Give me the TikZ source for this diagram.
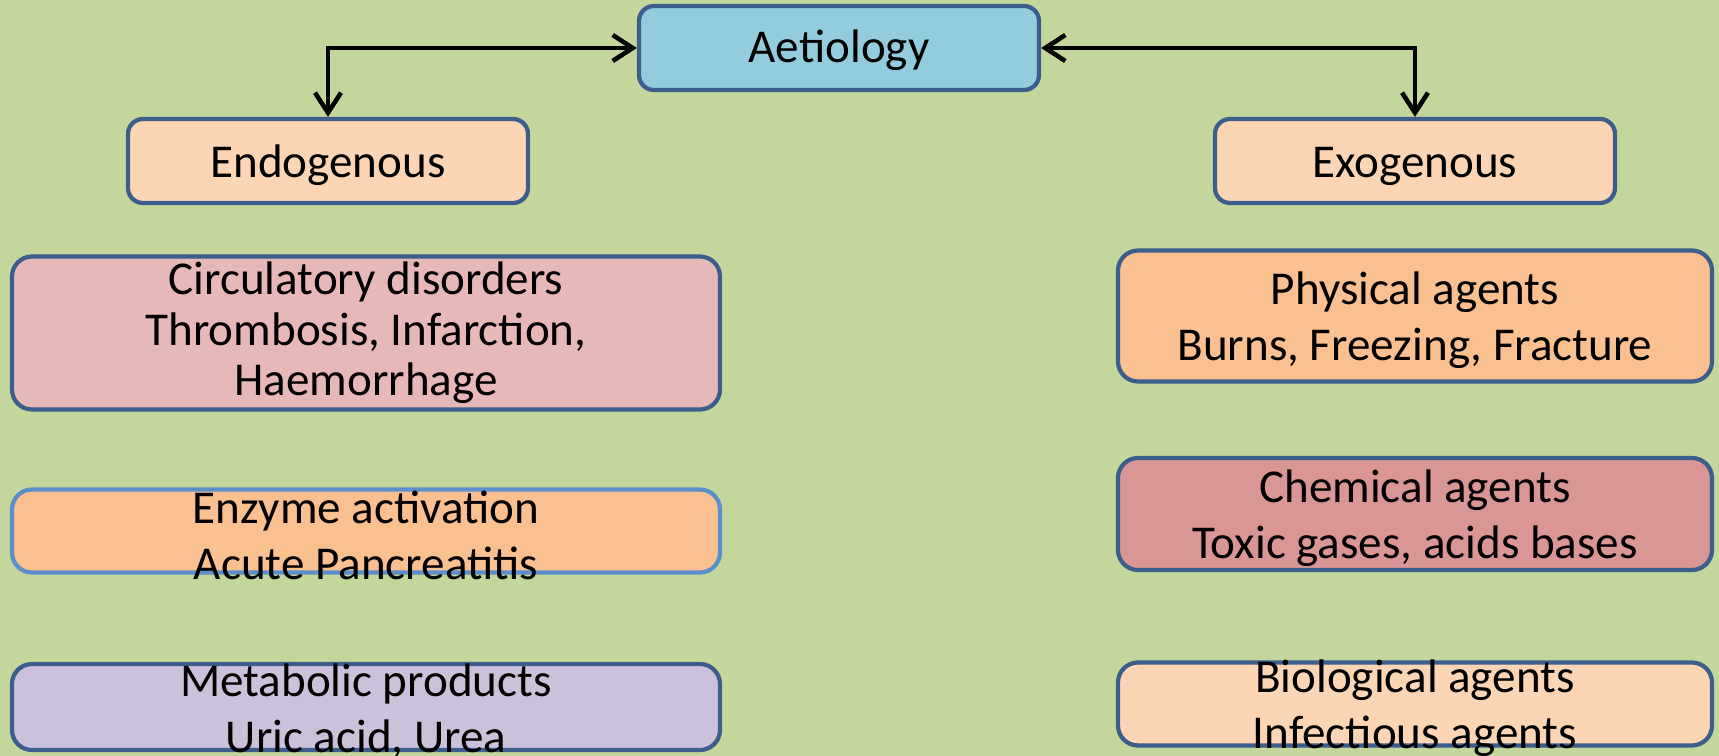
\documentclass[tikz,border=0pt]{standalone}
\usepackage{fontspec}
\setmainfont{Carlito}
\usepackage{tikz}
\usetikzlibrary{positioning}
\usetikzlibrary{arrows.meta}
\definecolor{bgolive}{HTML}{C3D69B}
\definecolor{edgeblue}{HTML}{3B5E8C}
\definecolor{lightedge}{HTML}{5B8FCB}
\definecolor{aetblue}{HTML}{93CDDD}
\definecolor{peach}{HTML}{FCD5B5}
\definecolor{apricot}{HTML}{FAC090}
\definecolor{rose}{HTML}{E6B9B8}
\definecolor{dustyred}{HTML}{D99694}
\definecolor{lilac}{HTML}{CCC1DA}
\tikzset{%
  linkarrow/.style = {{Straight Barb[length=2mm,width=2.6mm]}-{Straight Barb[length=2mm,width=2.6mm]},line width=1.3pt},
  headbox/.style = {rectangle,draw=edgeblue,line width=1.2pt,rounded corners=0.15cm,
        minimum width=4cm,minimum height=0.84cm,text height=12pt,text depth=2.8pt,
        font=\fontsize{13.4}{15}\selectfont},
  causebox/.style = {rectangle,draw=edgeblue,line width=1.2pt,rounded corners=0.2cm,
        inner sep=0pt},
  causetext/.style = {align=center,inner sep=0pt,yshift=-0.045cm,
        font=\fontsize{13.4}{15.9}\selectfont}
}
\begin{document}
\begin{tikzpicture}
                \fill[bgolive] (0,0) rectangle (17.19,7.56);
                \useasboundingbox (0,0) rectangle (17.19,7.56);

                \node[headbox, fill=aetblue, text height=10.8pt] (aet) at (8.39,7.08) {Aetiology};
                \node[headbox, fill=peach] (endo) at (3.28,5.95) {Endogenous};
                \node[headbox, fill=peach] (exo) at (14.15,5.95) {Exogenous};

                \node[causebox, fill=rose, minimum width=7.08cm, minimum height=1.53cm,
                      label={[causetext, yshift=0.045cm, font=\fontsize{13.4}{14.4}\selectfont]center:Circulatory disorders\\Thrombosis, Infarction,\\Haemorrhage}] (circ) at (3.66,4.23) {};
                \node[causebox, fill=apricot, draw=lightedge, minimum width=7.08cm, minimum height=0.83cm,
                      label={[causetext]center:Enzyme activation\\Acute Pancreatitis}] (enz) at (3.66,2.25) {};
                \node[causebox, fill=lilac, minimum width=7.08cm, minimum height=0.86cm,
                      label={[causetext]center:Metabolic products\\Uric acid, Urea}] (meta) at (3.66,0.49) {};

                \node[causebox, fill=apricot, minimum width=5.94cm, minimum height=1.31cm,
                      label={[causetext]center:Physical agents\\Burns, Freezing, Fracture}] (phys) at (14.15,4.40) {};
                \node[causebox, fill=dustyred, minimum width=5.94cm, minimum height=1.12cm,
                      label={[causetext]center:Chemical agents\\Toxic gases, acids bases}] (chem) at (14.15,2.42) {};
                \node[causebox, fill=peach, minimum width=5.94cm, minimum height=0.83cm,
                      label={[causetext]center:Biological agents\\Infectious agents}] (bio) at (14.15,0.52) {};

                \draw[linkarrow] (aet.west) -| (endo.north);
                \draw[linkarrow] (aet.east) -| (exo.north);
            \end{tikzpicture}
\end{document}
